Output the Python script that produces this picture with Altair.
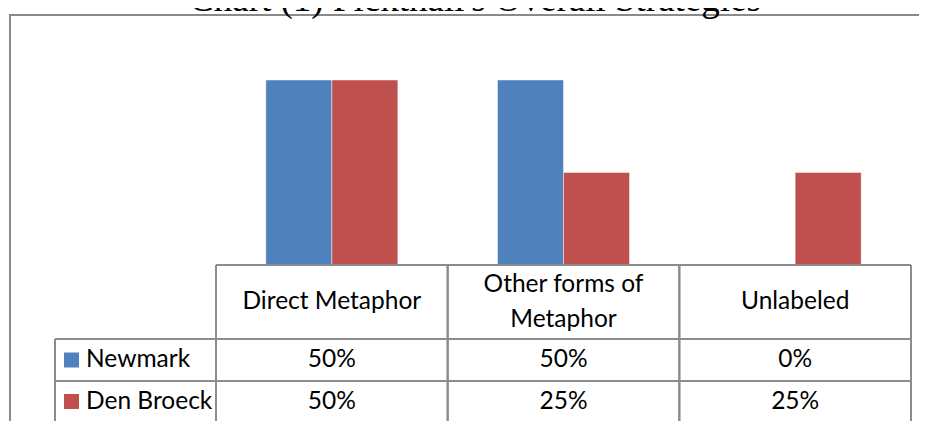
import altair as alt
import pandas as pd

# ---- data ----
categories = ["Direct Metaphor", "Other forms of\nMetaphor", "Unlabeled"]
series = ["Newmark", "Den Broeck"]
newmark = [0.50, 0.50, 0.00]
den_broeck = [0.50, 0.25, 0.25]
colors = ["#4F81BD", "#C0504D"]
title_text = "Chart (1) Pickthall's Overall Strategies"

rows = []
for s, vals in zip(series, [newmark, den_broeck]):
    for c, v in zip(categories, vals):
        rows.append({"category": c, "series": s, "value": v})
df = pd.DataFrame(rows)
cat_df = pd.DataFrame({"category": categories})
ser_df = pd.DataFrame({"series": series})

# ---- layout constants (svg px) ----
W, H = 911, 413
X_LEFT_TABLE = 47
X0, X1 = 208, 903          # category columns span
Y_BASE, Y_TOP = 257, 72    # bar baseline / 50% line
Y_HDR_TOP, Y_ROW1, Y_ROW2, Y_BOTTOM = 257, 331, 373, 414
ROW_CENTERS = {"Newmark": 352, "Den Broeck": 393.5}
HDR_CENTER = 294
LINE_H = 35
GRID = "#8c8c8c"
FONT = "Lato"
FS = 24.5

xscale = alt.Scale(domain=categories, range=[X0, X1], paddingInner=0, paddingOuter=0)
yscale = alt.Scale(domain=[0, 0.5], range=[Y_BASE, Y_TOP])
cscale = alt.Scale(domain=series, range=colors)
xenc = alt.X("category:N", scale=xscale, axis=None, sort=categories)

base = alt.Chart(df)

bars = base.mark_bar(stroke="white", strokeOpacity=0.45, strokeWidth=1).encode(
    x=xenc,
    xOffset=alt.XOffset("series:N", sort=series,
                        scale=alt.Scale(paddingInner=0, paddingOuter=0.755)),
    y=alt.Y("value:Q", scale=yscale, axis=None),
    color=alt.Color("series:N", scale=cscale, legend=None),
)

# header labels (single-line and two-line separately so both are centred)
hdr_style = dict(font=FONT, fontSize=FS, color="black", lineBreak="\n",
                 lineHeight=LINE_H, align="center", baseline="middle")
header1 = alt.Chart(cat_df).transform_filter(
    "indexof(datum.category, '\\n') < 0").mark_text(**hdr_style).encode(
    x=xenc, y=alt.value(HDR_CENTER), text="category:N")
header2 = alt.Chart(cat_df).transform_filter(
    "indexof(datum.category, '\\n') >= 0").mark_text(**hdr_style).encode(
    x=xenc, y=alt.value(HDR_CENTER - LINE_H / 2), text="category:N")

# value cells and legend keys
value_layers = []
legend_layers = []
for s in series:
    value_layers.append(
        base.transform_filter(alt.datum.series == s).mark_text(
            font=FONT, fontSize=FS, color="black", align="center", baseline="middle"
        ).encode(
            x=xenc,
            y=alt.value(ROW_CENTERS[s]),
            text=alt.Text("value:Q", format=".0%"),
        )
    )
    sdf = alt.Chart(ser_df).transform_filter(alt.datum.series == s)
    legend_layers.append(
        sdf.mark_square(size=225, opacity=1, filled=True).encode(
            x=alt.value(63.5), y=alt.value(ROW_CENTERS[s]),
            color=alt.Color("series:N", scale=cscale, legend=None),
        )
    )
    legend_layers.append(
        sdf.mark_text(font=FONT, fontSize=FS, color="black", align="left",
                      baseline="middle").encode(
            x=alt.value(78), y=alt.value(ROW_CENTERS[s]), text="series:N",
        )
    )

# table grid
vlines_left = alt.Chart(cat_df).mark_rule(color=GRID, strokeWidth=2).encode(
    x=alt.X("category:N", scale=xscale, axis=None, sort=categories, bandPosition=0),
    y=alt.value(Y_HDR_TOP), y2=alt.value(Y_BOTTOM),
)
vlines_right = alt.Chart(cat_df).mark_rule(color=GRID, strokeWidth=2).encode(
    x=alt.X("category:N", scale=xscale, axis=None, sort=categories, bandPosition=1),
    y=alt.value(Y_HDR_TOP), y2=alt.value(Y_BOTTOM),
)
hline_top = alt.Chart(cat_df).mark_rule(color=GRID, strokeWidth=2).encode(
    x=alt.value(X0), x2=alt.value(X1), y=alt.value(Y_HDR_TOP))
hlines = []
for yy in [Y_ROW1, Y_ROW2, Y_BOTTOM]:
    hlines.append(alt.Chart(cat_df).mark_rule(color=GRID, strokeWidth=2).encode(
        x=alt.value(X_LEFT_TABLE), x2=alt.value(X1), y=alt.value(yy)))
vline_legend = alt.Chart(cat_df).mark_rule(color=GRID, strokeWidth=2).encode(
    x=alt.value(X_LEFT_TABLE), y=alt.value(Y_ROW1), y2=alt.value(Y_BOTTOM))

# outer frame (left and top edges; right/bottom run off the page)
frame_left = alt.Chart(cat_df).mark_rule(color="#8a8a8a", strokeWidth=2).encode(
    x=alt.value(2), y=alt.value(6.5), y2=alt.value(H + 5))
frame_top = alt.Chart(cat_df).mark_rule(color="#8a8a8a", strokeWidth=2).encode(
    x=alt.value(1), x2=alt.value(W + 5), y=alt.value(7))

title = alt.Chart(pd.DataFrame({"t": [title_text]})).mark_text(
    font="Liberation Serif", fontSize=37, color="black", align="center",
    baseline="alphabetic",
).encode(x=alt.value(467), y=alt.value(2.5), text="t:N")

chart = alt.layer(
    frame_left, frame_top, title, bars, header1, header2, *value_layers,
    *legend_layers, vlines_left, vlines_right, hline_top, *hlines, vline_legend,
).properties(
    width=W, height=H, autosize=alt.AutoSizeParams(type="none"), padding=0,
).configure_view(stroke=None)

chart.save("out.html", embed_options={"renderer": "svg", "actions": False})
